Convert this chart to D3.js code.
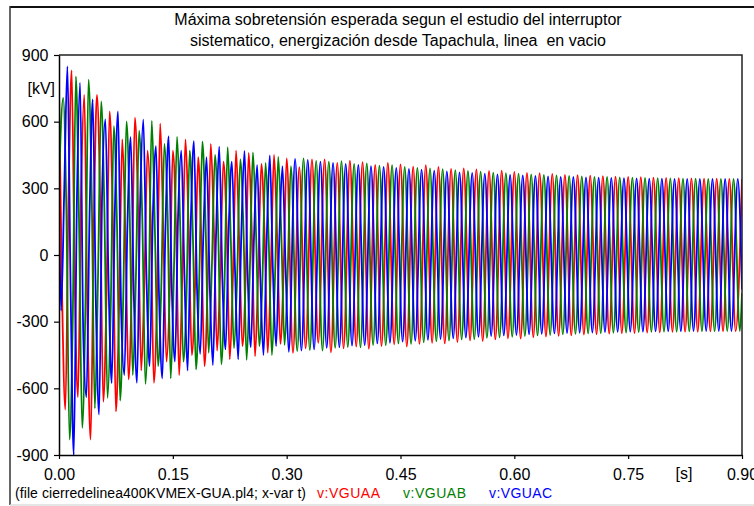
<!DOCTYPE html>
<html><head><meta charset="utf-8">
<script src="https://cdn.jsdelivr.net/npm/d3@7"></script>
<style>
body{margin:0;background:#fff}
svg{display:block}
text{font-family:"Liberation Sans",Arial,sans-serif}
</style>
</head><body>
<svg id="chart" width="754" height="506"></svg>
<script>
// ---- data ----
const titleLines = ["Máxima sobretensión esperada segun el estudio del interruptor",
                    "sistematico, energización desde Tapachula, linea  en vacio"];
const xTicks = [0.00, 0.15, 0.30, 0.45, 0.60, 0.75, 0.90];
const yTicks = [-900, -600, -300, 0, 300, 600, 900];
const xUnit = "[s]";
const yUnit = "[kV]";
const fileNote = "(file cierredelinea400KVMEX-GUA.pl4; x-var t)";
const seriesNames = ["v:VGUAA", "v:VGUAB", "v:VGUAC"];
const halfPeriod = 1 / 120;           // s between successive crests (60 Hz)
const firstCrestTime = [0, 1 / 180, 1 / 360]; // s, per phase
const edgeValues = [[null, null], [330, -171], [250, -155]]; // kV at t=0 and t=0.9

// crest values (alternating +/-), kV
const vguaa = [736,-696,831,-640,721,-831,721,-660,646,-704,520,-560,618,-520,470,-575,591,-480,470,-540,
520,-450,440,-500,500,-430,420,-470,470,-410,460,-455,410,-440,450,-400,435,-440,395,-420,
430,-395,430,-438,415,-420,425,-412,418,-422,405,-410,415,-402,408,-412,398,-400,404,-395,
396,-398,388,-392,390,-384,385,-387,378,-380,380,-375,374,-376,370,-370,368,-367,365,-364,
361,-362,359,-358,357,-356,355,-354,353,-352,351,-351,350,-349,348,-348,347,-346,346,-345,
345,-345,344,-344,344,-343,343,-343,342];
const vguab = [707,-831,804,-778,789,-690,691,-643,580,-655,601,-540,560,-580,604,-500,500,-555,532,-480,
470,-515,510,-440,450,-492,485,-420,430,-472,462,-410,415,-450,442,-405,400,-432,435,-428,
424,-430,420,-418,422,-414,410,-416,412,-405,402,-406,404,-398,396,-400,392,-393,390,-388,
386,-385,382,-380,378,-379,375,-373,371,-371,368,-368,366,-365,363,-362,360,-360,358,-357,
356,-355,354,-353,352,-352,351,-350,349,-349,348,-347,347,-346,346,-345,345,-345,344,-344,
344,-343,343,-343,343,-342,342,-342];
const vguac = [-250,849,-900,775,-640,700,-718,610,-576,646,-540,530,-575,609,-500,490,-555,534,-480,470,
-520,512,-445,440,-495,488,-425,420,-470,468,-415,405,-450,448,-410,400,-436,432,-430,428,
-425,420,-418,415,-416,410,-408,405,-406,400,-398,396,-395,392,-390,388,-386,384,-382,380,
-378,376,-375,372,-372,370,-368,366,-365,363,-362,360,-360,358,-357,356,-355,354,-353,352,
-351,351,-350,349,-349,348,-347,347,-346,346,-345,345,-345,344,-344,344,-343,343,-343,343,
-342,342,-342,342,-342,342,-342,342];
// distortion: value midway between crest k and crest k+1 (transient part only), kV
const vguaaMid = [-200,250,-150,300,-280,120,260,-200,180,-240,90,-150,220,-120,160,-200,100,-180,
140,-90,120,-160,80,-140,110,-70,130,-100,60,-120,90,-80,100,-60,80,-90];
const vguabMid = [200,-300,150,-250,280,-100,220,-260,140,-180,200,-90,170,-220,110,-150,190,-80,
130,-170,90,-120,150,-60,110,-130,70,-100,120,-80,90,-110,60,-90,80,-70];
const vguacMid = [300,-150,250,-350,180,-220,300,-120,200,-260,150,-180,240,-100,170,-200,120,-150,
180,-90,140,-160,100,-130,90,-110,120,-70,100,-90,80,-100,60,-80,70,-60];
const seriesColors = ["#ff0000", "#008000", "#0000ff"];

// ---- layout ----
const svg = d3.select("#chart");
const plot = {left: 59, right: 742, top: 55, bottom: 455};
const x = d3.scaleLinear().domain([0, 0.9]).range([plot.left, plot.right]);
const y = d3.scaleLinear().domain([-900, 900]).range([plot.bottom, plot.top]);

// outer window frame
svg.append("line").attr("x1", 10).attr("x2", 754).attr("y1", 7).attr("y2", 7)
  .attr("stroke", "#111").attr("stroke-width", 2);
svg.append("line").attr("x1", 10).attr("x2", 10).attr("y1", 6).attr("y2", 505)
  .attr("stroke", "#333").attr("stroke-width", 1.5);
svg.append("line").attr("x1", 10).attr("x2", 754).attr("y1", 505).attr("y2", 505)
  .attr("stroke", "#ddd").attr("stroke-width", 1.5);

// title
svg.append("g").selectAll("text").data(titleLines).join("text")
  .attr("x", 398).attr("y", (d, i) => 25 + i * 21)
  .attr("text-anchor", "middle").attr("font-size", 16).attr("fill", "#000")
  .style("white-space", "pre").text(d => d);

// clip
svg.append("clipPath").attr("id", "clip").append("rect")
  .attr("x", plot.left).attr("y", plot.top - 1)
  .attr("width", plot.right - plot.left).attr("height", plot.bottom - plot.top + 1);

// series
const allSeries = [vguaa, vguab, vguac];
const allMids = [vguaaMid, vguabMid, vguacMid];
const line = d3.line().x(d => x(d[0])).y(d => y(d[1])).curve(d3.curveMonotoneX);
const gLines = svg.append("g").attr("clip-path", "url(#clip)");
allSeries.forEach((vals, s) => {
  const pts = [];
  if (edgeValues[s][0] !== null) pts.push([0, edgeValues[s][0]]);
  vals.forEach((v, i) => {
    const t = firstCrestTime[s] + i * halfPeriod;
    pts.push([t, v]);
    if (i < allMids[s].length) pts.push([t + halfPeriod / 2, allMids[s][i]]);
  });
  if (edgeValues[s][1] !== null) pts.push([0.9, edgeValues[s][1]]);
  gLines.append("path").datum(pts).attr("d", line)
    .attr("fill", "none").attr("stroke", seriesColors[s])
    .attr("stroke-width", 1.8).attr("stroke-linejoin", "round");
});

// frame top/right
svg.append("path")
  .attr("d", `M${plot.left},${plot.top}H${plot.right}V${plot.bottom}`)
  .attr("fill", "none").attr("stroke", "#222").attr("stroke-width", 1.5);

// axes
const yAxis = svg.append("g").attr("transform", `translate(${plot.left},0)`)
  .call(d3.axisLeft(y).tickValues(yTicks).tickSize(5).tickSizeOuter(0).tickPadding(5.5)
    .tickFormat(d => String(d)));
const xAxis = svg.append("g").attr("transform", `translate(0,${plot.bottom})`)
  .call(d3.axisBottom(x).tickValues(xTicks).tickSize(4).tickSizeOuter(0).tickPadding(9.5)
    .tickFormat(d3.format(".2f")));
[yAxis, xAxis].forEach(g => {
  g.select(".domain").attr("stroke", "#000").attr("stroke-width", 1.5);
  g.selectAll(".tick line").attr("stroke", "#000").attr("stroke-width", 1.2);
  g.selectAll("text").attr("font-size", 16).attr("fill", "#000")
    .attr("font-family", "'Liberation Sans',Arial,sans-serif");
});

// unit labels
svg.append("text").attr("x", 55).attr("y", 94).attr("text-anchor", "end")
  .attr("font-size", 16).text(yUnit);
svg.append("text").attr("x", 684).attr("y", 479).attr("text-anchor", "middle")
  .attr("font-size", 16).text(xUnit);

// footnote
const note = svg.append("g").attr("font-size", 14);
note.append("text").attr("x", 15).attr("y", 498).attr("fill", "#000")
  .attr("textLength", 291).attr("lengthAdjust", "spacing").text(fileNote);
const noteX = [317, 403, 489];
seriesNames.forEach((n, i) => {
  note.append("text").attr("x", noteX[i]).attr("y", 498).attr("fill", seriesColors[i])
    .attr("textLength", 63).attr("lengthAdjust", "spacing").text(n);
});
</script>
</body></html>
